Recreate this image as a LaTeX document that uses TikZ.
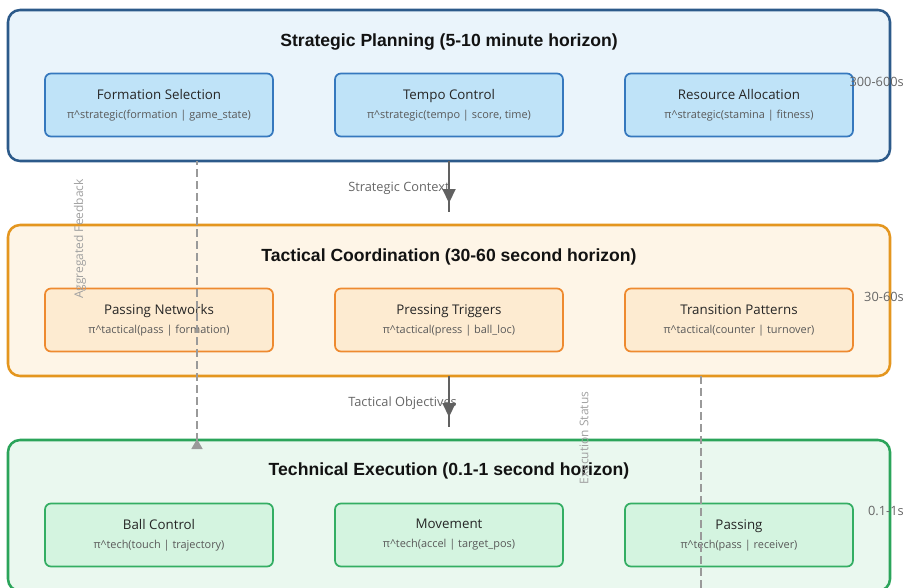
\documentclass[tikz,border=0pt]{standalone}
\usepackage{fontspec}
\setmainfont{Open Sans}
\newfontfamily\headfont{Liberation Sans}
\usetikzlibrary{arrows.meta,positioning}

\definecolor{stratFill}{HTML}{EAF4FB}
\definecolor{stratLine}{HTML}{2C5A8A}
\definecolor{stratModFill}{HTML}{BFE3F8}
\definecolor{stratModLine}{HTML}{3578BE}
\definecolor{tactFill}{HTML}{FEF5E7}
\definecolor{tactLine}{HTML}{E4961F}
\definecolor{tactModFill}{HTML}{FDEBD1}
\definecolor{tactModLine}{HTML}{EE8A30}
\definecolor{techFill}{HTML}{EAF8EF}
\definecolor{techLine}{HTML}{2BA45A}
\definecolor{techModFill}{HTML}{D4F4E0}
\definecolor{techModLine}{HTML}{33AE63}
\definecolor{policyGray}{HTML}{595959}
\definecolor{noteGray}{HTML}{666666}
\definecolor{sideGray}{HTML}{A0A0A0}
\definecolor{arrowGray}{HTML}{616161}
\definecolor{dashGray}{HTML}{9A9A9A}

\newcommand{\policy}[1]{{\fontsize{8.2}{10}\selectfont\color{policyGray}#1}}

\begin{document}
\begin{tikzpicture}[x=0.75pt,y=0.75pt]
  \tikzstyle{layer} = [rectangle, rounded corners=9pt, line width=1.9pt, minimum width=661.5pt, minimum height=113.25pt, inner sep=0pt, outer sep=0pt]
  \tikzstyle{module} = [rectangle, rounded corners=4.5pt, line width=1.3pt, minimum width=171pt, minimum height=47.25pt, inner sep=0pt, outer sep=0pt, align=center, text=black!85, font=\fontsize{10}{14.25}\selectfont]
  \tikzstyle{heading} = [font=\headfont\bfseries\fontsize{13.2}{15}\selectfont, text=black!93]
  \tikzstyle{note} = [font=\fontsize{9.6}{11}\selectfont, text=noteGray, inner sep=0pt]
  \tikzstyle{sidenote} = [font=\fontsize{9}{11}\selectfont, text=sideGray, inner sep=0pt, rotate=90]
  \tikzstyle{flow} = [line width=1.6pt, draw=arrowGray]
  \tikzstyle{feedback} = [line width=1.1pt, draw=dashGray, dash pattern=on 6pt off 3pt]
  \useasboundingbox (0,0) rectangle (903,587);

  % strategic layer
  \node[layer, draw=stratLine, fill=stratFill] (strategic) at (449,501.5) {};
  \node[heading] (stratTitle) at (449,545) {Strategic Planning (5-10 minute horizon)};
  \node[module, draw=stratModLine, fill=stratModFill] (formation) at (159,482) {Formation Selection\\\policy{π\textasciicircum strategic(formation | game\_state)}};
  \node[module, draw=stratModLine, fill=stratModFill, right=46.5pt of formation] (tempo) {Tempo Control\\\policy{π\textasciicircum strategic(tempo | score, time)}};
  \node[module, draw=stratModLine, fill=stratModFill, right=46.5pt of tempo] (resource) {Resource Allocation\\\policy{π\textasciicircum strategic(stamina | fitness)}};

  % tactical layer
  \node[layer, draw=tactLine, fill=tactFill] (tactical) at (449,286.5) {};
  \node[heading] (tactTitle) at (449,330) {Tactical Coordination (30-60 second horizon)};
  \node[module, draw=tactModLine, fill=tactModFill] (passnet) at (159,267) {Passing Networks\\\policy{π\textasciicircum tactical(pass | formation)}};
  \node[module, draw=tactModLine, fill=tactModFill, right=46.5pt of passnet] (pressing) {Pressing Triggers\\\policy{π\textasciicircum tactical(press | ball\_loc)}};
  \node[module, draw=tactModLine, fill=tactModFill, right=46.5pt of pressing] (transition) {Transition Patterns\\\policy{π\textasciicircum tactical(counter | turnover)}};

  % technical layer
  \node[layer, draw=techLine, fill=techFill] (technical) at (449,71.5) {};
  \node[heading] (techTitle) at (449,116) {Technical Execution (0.1-1 second horizon)};
  \node[module, draw=techModLine, fill=techModFill] (ballctrl) at (159,52) {Ball Control\\\policy{π\textasciicircum tech(touch | trajectory)}};
  \node[module, draw=techModLine, fill=techModFill, right=46.5pt of ballctrl] (movement) {Movement\\\policy{π\textasciicircum tech(accel | target\_pos)}};
  \node[module, draw=techModLine, fill=techModFill, right=46.5pt of movement] (passing) {Passing\\\policy{π\textasciicircum tech(pass | receiver)}};

  % time scales
  \node[note, anchor=east] (stratTime) at (904,505) {300-600s};
  \node[note, anchor=east] (tactTime) at (904,290) {30-60s};
  \node[note, anchor=east] (techTime) at (904,76) {0.1-1s};

  % downward flow
  \node[note, anchor=west] (ctxLabel) at (348,399) {Strategic Context};
  \node[note, anchor=west] (objLabel) at (348,184) {Tactical Objectives};
  \coordinate (ctxEnd) at (449,375);
  \coordinate (ctxTip) at (449,384);
  \coordinate (objEnd) at (449,160);
  \coordinate (objTip) at (449,170);
  \draw[flow] (strategic.south) -- (ctxEnd);
  \draw[flow, -{Triangle[length=10.5pt,width=9.75pt]}] (strategic.south) -- (ctxTip);
  \draw[flow] (tactical.south) -- (objEnd);
  \draw[flow, -{Triangle[length=10.5pt,width=9.75pt]}] (tactical.south) -- (objTip);

  % feedback
  \coordinate (fbBase) at (197,138);
  \coordinate (esEnd) at (701,-6);
  \draw[feedback, {Triangle[reversed,length=7.5pt,width=8.25pt]}-] (fbBase) -- (strategic.south -| fbBase);
  \draw[feedback] (tactical.south -| esEnd) -- (esEnd);
  \node[sidenote] (fbLabel) at (80,348) {Aggregated Feedback};
  \node[sidenote] (esLabel) at (584,149) {Execution Status};
\end{tikzpicture}
\end{document}
